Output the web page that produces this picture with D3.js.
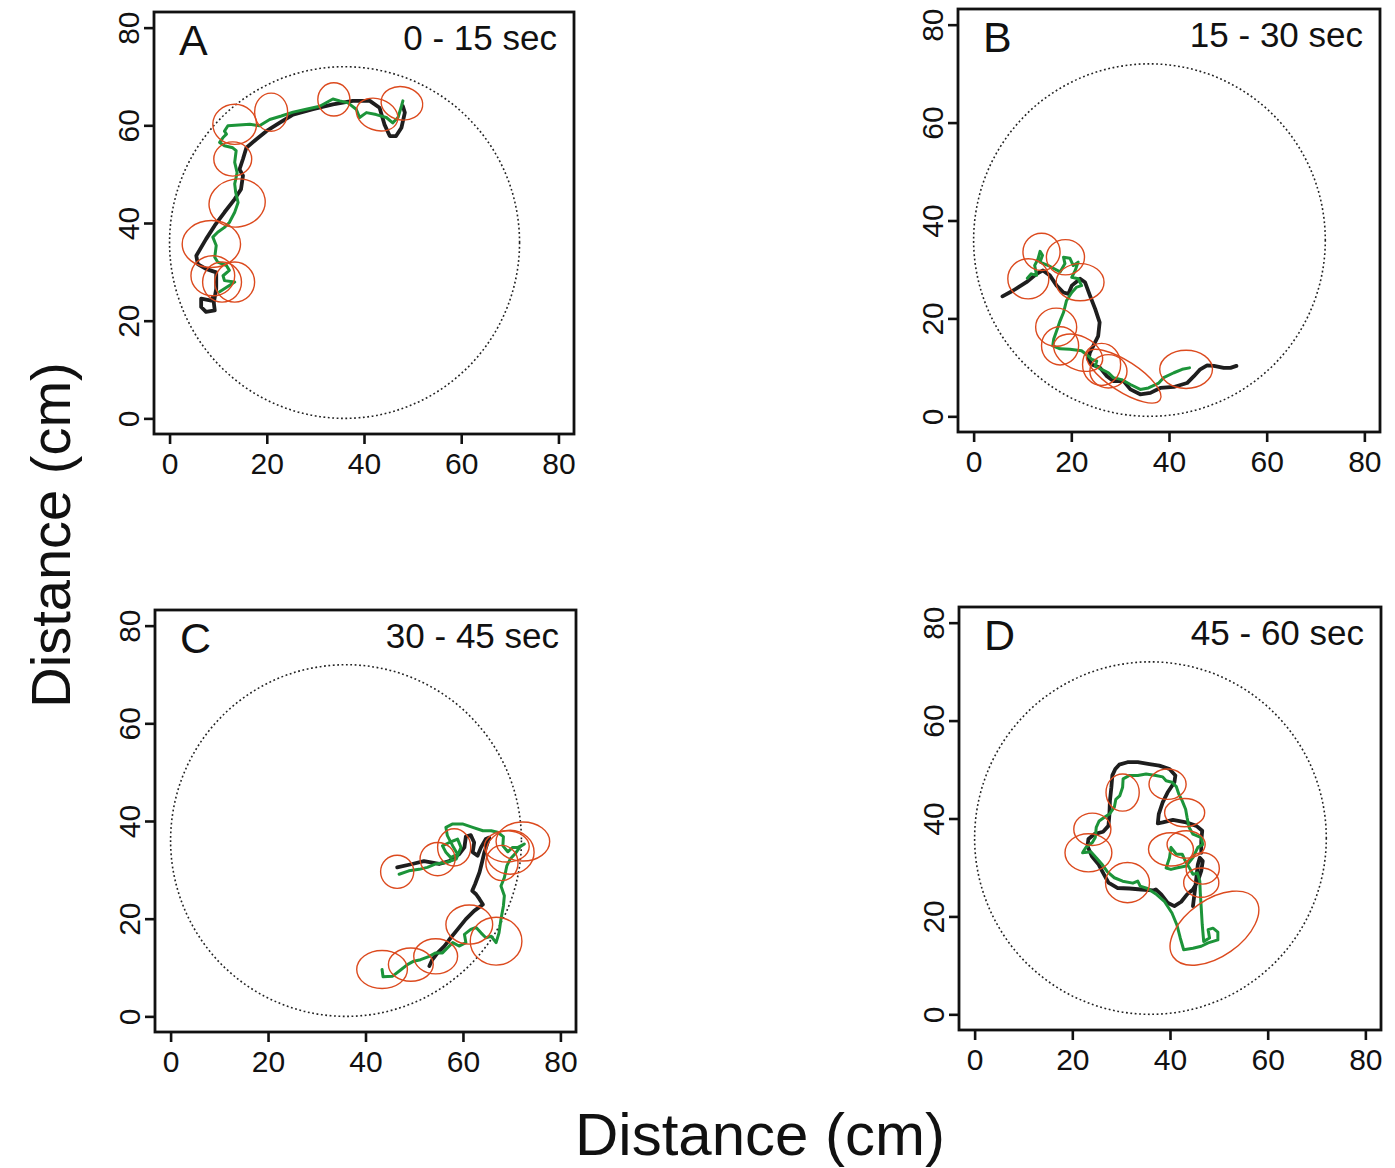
<!DOCTYPE html>
<html>
<head>
<meta charset="utf-8">
<script src="https://cdn.jsdelivr.net/npm/d3@7"></script>
<style>
  html, body { margin: 0; padding: 0; background: #fff; }
  svg { display: block; }
  text { font-family: "Liberation Sans", Arial, Helvetica, sans-serif; fill: #111; }
</style>
</head>
<body>
<svg id="chart" width="1395" height="1168"></svg>
<script>
// ---------------- DATA ----------------
const tickValues = [0, 20, 40, 60, 80];
const panelLetters = ["A", "B", "C", "D"];
const timeLabels = ["0 - 15 sec", "15 - 30 sec", "30 - 45 sec", "45 - 60 sec"];
const axisTitle = "Distance (cm)";
const arena = [36, 36, 36]; // centre x, centre y, radius (cm)

// Panel A
const actualA = [[8.9,24.8],[8.6,24.1],[6.5,24.5],[6.5,22.8],[7.5,21.8],[9.3,22.1],[9.1,23.7],[9.6,26.5],[9.6,29.9],[7.5,30.6],[5.8,31.6],[5.5,33.3],[7.5,36.7],[9.3,39.5],[11.3,42.2],[13.4,44.9],[14.7,46.9],[15.1,49.7],[14.4,51.0],[15.1,53.1],[15.8,55.4],[17.8,57.1],[19.9,58.8],[22.6,60.5],[25.4,62.2],[29.5,63.3],[33.6,64.3],[37.7,65.0],[41.2,65.0],[43.2,63.6],[44.2,60.2],[45.3,57.8],[46.6,57.8],[47.7,59.5],[48.4,62.6],[48.0,63.9]];
const decodedA = [[10.3,25.9],[12.3,27.2],[13.4,27.9],[11.3,28.2],[11.0,29.2],[12.3,30.3],[11.7,31.3],[9.9,32.0],[9.3,33.0],[9.6,35.4],[8.9,37.1],[9.9,38.1],[11.3,39.1],[12.3,40.1],[13.4,42.2],[14.1,44.2],[13.6,46.3],[13.4,48.0],[13.9,50.3],[13.4,52.4],[13.7,54.8],[13.0,55.4],[11.3,55.8],[10.3,56.5],[11.0,57.5],[11.7,58.2],[11.3,58.8],[12.0,59.9],[16.5,60.2],[18.5,59.9],[20.6,61.2],[23.0,61.9],[25.4,62.7],[28.1,63.3],[30.9,63.9],[33.6,65.4],[35.0,65.0],[36.7,64.6],[38.4,63.3],[39.1,61.6],[40.5,62.6],[42.5,62.2],[44.6,61.6],[45.9,60.5],[47.0,61.6],[47.7,63.9],[48.0,65.0]];
const ellipsesA = [[13.4,60.2,4.5,4.1,0],[20.9,62.7,3.4,3.9,0],[33.8,65.3,3.3,3.4,0],[42.7,62.2,4.4,3.2,20],[47.8,64.5,4.3,3.4,10],[13.0,53.1,3.9,3.5,0],[13.9,44.1,5.8,4.9,-10],[8.6,35.7,6.0,4.8,0],[8.9,29.2,4.5,4.1,0],[10.8,27.9,4.0,4.1,0],[13.4,27.9,4.1,4.1,0]];

// Panel B
const actualB = [[5.9,24.5],[8.1,25.7],[10.8,27.4],[12.9,29.1],[14.2,29.8],[15.6,28.8],[17.0,26.7],[18.4,25.3],[19.4,25.0],[20.1,26.7],[21.8,28.1],[22.8,27.4],[23.8,24.7],[24.9,21.9],[25.8,19.2],[25.5,16.4],[24.5,14.4],[23.8,13.0],[23.5,11.6],[24.2,10.6],[25.9,9.9],[27.3,8.2],[28.6,7.2],[30.7,7.2],[32.1,5.5],[34.1,4.5],[36.2,4.8],[38.2,5.8],[41.0,6.0],[43.7,6.8],[45.1,8.2],[46.4,9.6],[47.8,10.4],[49.2,10.3],[51.2,9.9],[52.6,9.9],[53.8,10.3]];
const decodedB = [[11.0,28.2],[11.8,29.1],[12.9,28.8],[12.5,30.8],[13.2,32.2],[13.6,33.7],[14.1,32.9],[13.6,31.5],[15.3,30.8],[16.6,30.1],[17.7,29.5],[18.7,31.2],[18.4,32.5],[19.7,32.3],[20.4,30.8],[21.4,31.5],[20.8,29.8],[20.1,28.4],[21.4,28.1],[22.1,26.7],[21.1,26.4],[20.1,25.3],[19.0,23.6],[18.4,21.2],[17.7,19.5],[17.0,17.5],[16.4,15.8],[16.2,14.4],[17.7,13.8],[19.7,13.7],[22.1,13.4],[23.5,12.3],[24.2,11.6],[25.2,11.3],[24.9,10.3],[26.2,9.6],[27.6,8.9],[28.6,7.9],[30.3,7.5],[32.1,6.5],[34.1,5.5],[35.8,5.8],[37.9,6.8],[38.9,7.9],[41.0,8.9],[42.7,9.6],[44.2,9.9]];
const ellipsesB = [[13.9,33.6,3.8,3.8,0],[18.8,32.5,3.9,3.6,0],[11.2,28.1,4.2,4.1,0],[21.8,27.4,4.9,3.8,0],[16.9,18.2,4.2,3.9,0],[17.7,14.4,3.8,3.9,0],[21.4,13.0,5.3,3.4,25],[26.2,10.6,3.9,4.3,0],[27.6,9.2,3.8,3.4,0],[30.7,8.2,8.9,3.1,33],[43.5,9.6,5.4,3.9,0]];

// Panel C
const actualC = [[46.5,30.5],[49.6,31.2],[52.0,31.8],[53.7,31.5],[55.1,31.2],[57.2,31.8],[59.2,33.2],[60.3,34.6],[60.6,36.8],[61.6,37.1],[62.3,35.6],[62.0,33.6],[63.0,32.9],[63.7,34.6],[64.7,36.3],[65.4,36.6],[64.4,33.6],[63.9,31.5],[63.4,29.5],[62.5,27.1],[61.9,25.7],[62.7,25.0],[63.4,24.0],[64.1,22.9],[62.3,21.6],[60.6,19.9],[58.9,17.8],[57.5,16.1],[56.2,14.4],[54.8,13.0],[53.7,11.6],[53.1,10.3]];
const decodedC = [[43.4,9.6],[43.6,8.1],[45.5,8.2],[47.2,9.5],[48.6,10.6],[49.9,11.3],[51.3,11.6],[53.1,12.3],[54.4,13.0],[55.8,13.0],[56.8,14.0],[57.9,15.1],[59.2,14.4],[60.6,15.1],[60.3,16.8],[61.6,17.8],[62.7,18.2],[63.7,17.1],[64.7,16.1],[65.8,16.4],[66.8,15.1],[67.4,17.1],[67.8,19.9],[68.3,22.6],[68.5,24.7],[67.8,26.7],[68.5,28.4],[69.0,30.8],[69.7,32.2],[70.8,33.4],[71.8,34.8],[72.6,35.3],[71.3,34.6],[70.2,34.6],[69.2,33.7],[68.2,34.9],[68.3,36.8],[67.1,37.7],[65.8,38.0],[64.1,38.0],[62.0,38.7],[59.9,39.4],[57.9,39.4],[56.5,38.7],[56.8,37.0],[57.9,34.9],[58.9,33.2],[57.5,32.5],[56.5,33.6],[55.8,34.9],[57.2,35.6],[58.9,36.3],[59.6,34.6],[58.6,32.2],[56.5,31.5],[54.4,31.2],[52.7,30.5],[51.0,30.1],[48.9,29.8],[46.9,29.1]];
const ellipsesC = [[46.5,29.6,3.4,3.4,0],[54.8,32.2,3.6,3.4,0],[58.2,34.6,3.4,3.8,0],[69.7,33.6,4.9,4.5,0],[72.3,35.8,5.5,4.0,0],[68.0,31.4,3.3,3.6,0],[69.0,34.8,4.6,3.2,0],[61.3,18.8,4.8,4.0,0],[66.8,15.4,5.3,4.9,0],[54.4,12.3,4.5,3.6,0],[49.3,10.6,4.6,3.4,0],[43.4,9.6,5.2,3.9,0]];

// Panel D
const actualD = [[46.4,33.0],[46.4,35.4],[46.6,37.5],[45.4,38.5],[43.3,39.2],[40.6,39.7],[38.5,39.2],[37.5,39.0],[37.7,40.9],[38.5,43.3],[39.5,45.3],[40.9,47.4],[41.1,48.8],[39.9,50.1],[37.8,50.8],[35.8,51.1],[33.4,51.5],[31.3,51.5],[29.6,51.0],[28.8,50.1],[28.2,48.8],[28.0,46.4],[27.7,43.6],[27.6,40.9],[27.4,38.5],[26.3,37.3],[24.5,36.8],[23.3,35.8],[23.1,34.4],[24.0,32.3],[25.4,30.6],[26.3,28.9],[27.4,26.9],[29.3,25.8],[31.7,25.7],[34.1,25.5],[36.5,25.3],[37.1,25.5],[38.2,24.5],[39.5,22.8],[40.9,22.1],[42.3,23.0],[43.5,24.5],[44.7,25.5],[45.7,27.2],[46.4,29.3],[46.7,31.3],[46.1,32.0],[45.7,30.6],[45.4,27.9],[45.0,24.5],[44.7,22.1]];
const decodedD = [[22.1,33.0],[23.8,33.2],[24.9,32.0],[26.2,30.5],[27.2,29.1],[28.6,27.9],[30.3,27.2],[32.4,26.8],[33.4,27.2],[33.9,26.2],[35.4,25.7],[37.1,24.6],[38.9,23.0],[40.4,20.7],[41.4,18.3],[42.1,15.6],[42.8,13.2],[44.7,13.5],[46.4,13.9],[47.8,14.6],[48.8,14.9],[49.8,15.2],[49.8,16.8],[48.8,17.6],[47.8,17.3],[48.1,15.6],[46.9,14.9],[46.6,18.3],[46.4,21.7],[46.2,24.8],[46.1,27.2],[45.6,28.9],[44.7,28.6],[44.0,29.9],[43.3,31.0],[42.5,32.7],[41.3,32.7],[40.2,34.1],[39.9,32.0],[39.2,29.9],[40.2,29.6],[41.3,29.9],[43.3,30.3],[44.7,32.0],[45.7,34.1],[46.7,34.7],[46.4,36.1],[44.7,36.8],[43.9,38.2],[43.5,40.2],[43.2,41.9],[42.5,43.6],[41.8,45.0],[41.3,46.5],[40.4,47.4],[39.2,47.7],[38.5,48.5],[37.1,48.8],[35.1,49.1],[33.4,48.8],[31.7,48.8],[30.4,48.1],[30.3,46.4],[29.7,44.6],[28.9,43.9],[28.6,42.3],[27.6,40.9],[26.5,40.2],[25.5,39.5],[24.9,38.2],[24.7,36.1],[24.1,35.1],[22.8,34.1],[22.2,33.2]];
const ellipsesD = [[30.3,45.3,3.4,3.8,0],[39.5,47.0,3.8,3.1,0],[43.0,41.2,4.1,2.9,0],[24.1,37.8,3.8,3.3,0],[23.3,33.0,4.8,3.9,0],[40.2,33.7,4.6,3.4,0],[43.3,34.7,3.9,2.8,0],[46.7,29.8,3.4,3.2,0],[46.4,26.9,3.6,3.0,0],[31.3,26.9,4.5,4.1,0],[49.1,17.6,10.3,5.8,-35]];

const panels = [
  { box: [154, 12, 574, 434], actual: actualA, decoded: decodedA, ellipses: ellipsesA },
  { box: [958, 9, 1380, 432], actual: actualB, decoded: decodedB, ellipses: ellipsesB },
  { box: [155, 610, 576, 1032], actual: actualC, decoded: decodedC, ellipses: ellipsesC },
  { box: [959, 607, 1381, 1030], actual: actualD, decoded: decodedD, ellipses: ellipsesD }
];

// ---------------- DRAW ----------------
const svg = d3.select("#chart");
const domain = [-3.2, 83.2];

panels.forEach((p, i) => {
  const [x0, y0, x1, y1] = p.box;
  const x = d3.scaleLinear().domain(domain).range([x0, x1]);
  const y = d3.scaleLinear().domain(domain).range([y1, y0]);
  const g = svg.append("g");

  // arena (dotted circle)
  g.append("ellipse")
    .attr("cx", x(arena[0])).attr("cy", y(arena[1]))
    .attr("rx", x(arena[2]) - x(0)).attr("ry", y(0) - y(arena[2]))
    .attr("fill", "none").attr("stroke", "#222")
    .attr("stroke-width", 1.6).attr("stroke-dasharray", "1.8,2.6");

  const line = d3.line().x(d => x(d[0])).y(d => y(d[1]));

  g.append("path").datum(p.actual).attr("d", line)
    .attr("fill", "none").attr("stroke", "#1e1e1e")
    .attr("stroke-width", 3.8).attr("stroke-linejoin", "round").attr("stroke-linecap", "round");

  g.append("path").datum(p.decoded).attr("d", line)
    .attr("fill", "none").attr("stroke", "#1c9439")
    .attr("stroke-width", 3).attr("stroke-linejoin", "round").attr("stroke-linecap", "round");

  g.selectAll("ellipse.err").data(p.ellipses).enter().append("ellipse")
    .attr("class", "err")
    .attr("cx", d => x(d[0])).attr("cy", d => y(d[1]))
    .attr("rx", d => x(d[2]) - x(0)).attr("ry", d => y(0) - y(d[3]))
    .attr("transform", d => `rotate(${d[4]}, ${x(d[0])}, ${y(d[1])})`)
    .attr("fill", "none").attr("stroke", "#dc4a1e").attr("stroke-width", 1.4);

  // box
  g.append("rect").attr("x", x0).attr("y", y0)
    .attr("width", x1 - x0).attr("height", y1 - y0)
    .attr("fill", "none").attr("stroke", "#111").attr("stroke-width", 2.8);

  // axes
  const ax = g.append("g").attr("transform", `translate(0,${y1})`)
    .call(d3.axisBottom(x).tickValues(tickValues).tickSize(10).tickFormat(d3.format("d")));
  ax.select(".domain").remove();
  ax.selectAll(".tick line").attr("stroke", "#111").attr("stroke-width", 2.6);
  ax.selectAll(".tick text").attr("y", 40).attr("dy", 0)
    .style("font-size", "30px").attr("fill", "#111");

  const ay = g.append("g").attr("transform", `translate(${x0},0)`)
    .call(d3.axisLeft(y).tickValues(tickValues).tickSize(10).tickFormat(d3.format("d")));
  ay.select(".domain").remove();
  ay.selectAll(".tick line").attr("stroke", "#111").attr("stroke-width", 2.6);
  ay.selectAll(".tick text").attr("x", 0).attr("dy", 0)
    .attr("text-anchor", "middle")
    .attr("transform", "translate(-15,0) rotate(-90)")
    .style("font-size", "30px").attr("fill", "#111");

  // labels
  g.append("text").attr("x", x0 + 25).attr("y", y0 + 43)
    .style("font-size", "43px").text(panelLetters[i]);
  g.append("text").attr("x", x1 - 17).attr("y", y0 + 38)
    .attr("text-anchor", "end").style("font-size", "35px").text(timeLabels[i]);
});

// axis titles
svg.append("text").attr("x", 760).attr("y", 1155)
  .attr("text-anchor", "middle").style("font-size", "60px").text(axisTitle);
svg.append("text")
  .attr("transform", "translate(70,535) rotate(-90)")
  .attr("text-anchor", "middle").style("font-size", "56px").text(axisTitle);
</script>
</body>
</html>
